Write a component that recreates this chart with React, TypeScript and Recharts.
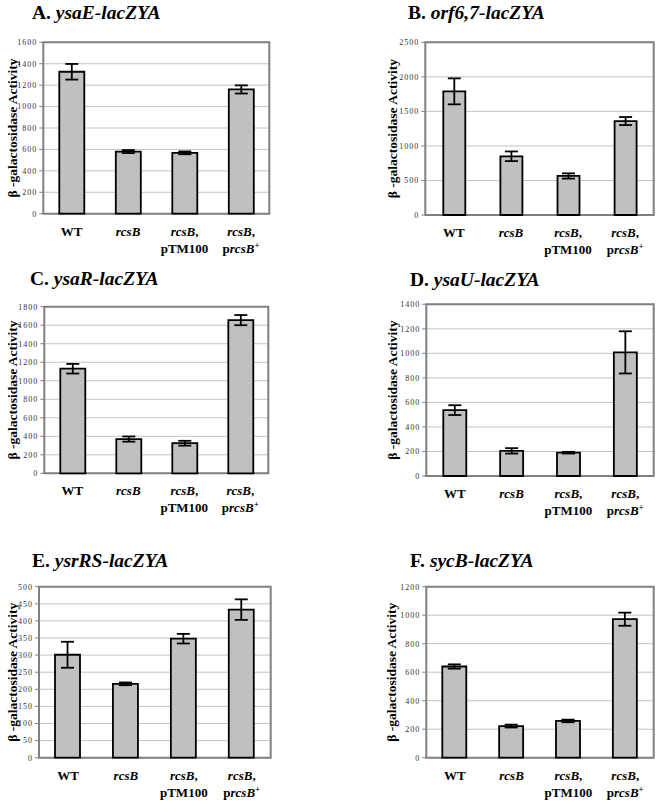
import React from 'react';
import { BarChart, Bar, XAxis, YAxis, CartesianGrid, ErrorBar, ReferenceArea } from 'recharts';

const categories = ['WT', 'rcsB', 'rcsB, pTM100', 'rcsB, prcsB+'];

const aValues = [1325, 580, 568, 1160];
const aErrors = [73, 14, 13, 38];
const aTicks = [0, 200, 400, 600, 800, 1000, 1200, 1400, 1600];

const bValues = [1790, 850, 565, 1360];
const bErrors = [188, 70, 38, 58];
const bTicks = [0, 500, 1000, 1500, 2000, 2500];

const cValues = [1130, 370, 325, 1655];
const cErrors = [52, 28, 26, 55];
const cTicks = [0, 200, 400, 600, 800, 1000, 1200, 1400, 1600, 1800];

const dValues = [537, 205, 190, 1008];
const dErrors = [40, 22, 7, 172];
const dTicks = [0, 200, 400, 600, 800, 1000, 1200, 1400];

const eValues = [301, 216, 348, 433];
const eErrors = [38, 4, 14, 30];
const eTicks = [0, 50, 100, 150, 200, 250, 300, 350, 400, 450, 500];

const fValues = [640, 222, 258, 972];
const fErrors = [15, 10, 9, 46];
const fTicks = [0, 200, 400, 600, 800, 1000, 1200];

const SERIF = 'Liberation Serif, Times New Roman, serif';
const W = 332;
const H = 269;
const YW = 35;
const XH = 40;
const TITLE_SIZE = 19.5;

interface PanelSpec {
  letter: string;
  gene: string;
  values: number[];
  errors: number[];
  ticks: number[];
  px: number;
  py: number;
  plot: [number, number, number, number];
  title: [number, number];
  labelX: number;
  barSize: number;
}

const panels: PanelSpec[] = [
  { letter: 'A.', gene: 'ysaE-lacZYA', values: aValues, errors: aErrors, ticks: aTicks,
    px: 0, py: 0, plot: [43.3, 42.3, 269.3, 213.7], title: [32, 19], labelX: 12, barSize: 25 },
  { letter: 'B.', gene: 'orf6,7-lacZYA', values: bValues, errors: bErrors, ticks: bTicks,
    px: 332, py: 0, plot: [425.3, 42.3, 653.7, 215], title: [408, 19], labelX: 392, barSize: 22 },
  { letter: 'C.', gene: 'ysaR-lacZYA', values: cValues, errors: cErrors, ticks: cTicks,
    px: 0, py: 265, plot: [44.3, 306.7, 268.3, 473.3], title: [30, 285], labelX: 12, barSize: 25 },
  { letter: 'D.', gene: 'ysaU-lacZYA', values: dValues, errors: dErrors, ticks: dTicks,
    px: 332, py: 265, plot: [426.3, 304.3, 653.7, 476], title: [410, 286], labelX: 392, barSize: 23 },
  { letter: 'E.', gene: 'ysrRS-lacZYA', values: eValues, errors: eErrors, ticks: eTicks,
    px: 0, py: 535, plot: [39, 586.7, 270.7, 757.7], title: [32, 567], labelX: 12, barSize: 25 },
  { letter: 'F.', gene: 'sycB-lacZYA', values: fValues, errors: fErrors, ticks: fTicks,
    px: 332, py: 535, plot: [426.3, 586.7, 653.7, 757.7], title: [410, 567], labelX: 391, barSize: 24 },
];

function XTick(props: any) {
  const { x, y, payload } = props;
  const v: string = payload.value;
  const l1 = y + 22;
  const l2 = y + 39;
  const st = { fontFamily: SERIF, fontSize: 13, fontWeight: 700, fill: '#000' };
  if (v === 'WT') {
    return <text x={x} y={l1} textAnchor="middle" {...st}>WT</text>;
  }
  if (v === 'rcsB') {
    return <text x={x} y={l1} textAnchor="middle" {...st} fontStyle="italic">rcsB</text>;
  }
  const first = (
    <text x={x} y={l1} textAnchor="middle" {...st}>
      <tspan fontStyle="italic">rcsB</tspan>,
    </text>
  );
  if (v === 'rcsB, pTM100') {
    return (
      <g>
        {first}
        <text x={x} y={l2} textAnchor="middle" {...st}>pTM100</text>
      </g>
    );
  }
  return (
    <g>
      {first}
      <text x={x} y={l2} textAnchor="middle" {...st}>
        p<tspan fontStyle="italic">rcsB</tspan>
        <tspan fontSize={9} dy={-5}>+</tspan>
      </text>
    </g>
  );
}

function Panel({ p }: { p: PanelSpec }) {
  const data = categories.map((name, i) => ({ name, value: p.values[i], err: p.errors[i] }));
  const max = p.ticks[p.ticks.length - 1];
  const margin = {
    top: p.plot[1] - p.py,
    left: p.plot[0] - p.px - YW,
    right: p.px + W - p.plot[2],
    bottom: H - (p.plot[3] - p.py) - XH,
  };
  return (
    <>
      <div
        style={{
          position: 'absolute',
          left: p.title[0],
          top: p.title[1] - 0.8375 * TITLE_SIZE,
          fontFamily: SERIF,
          fontSize: TITLE_SIZE,
          lineHeight: `${TITLE_SIZE}px`,
          fontWeight: 700,
          whiteSpace: 'nowrap',
        }}
      >
        {p.letter} <i>{p.gene}</i>
      </div>
      <div style={{ position: 'absolute', left: p.px, top: p.py }}>
        <BarChart width={W} height={H} data={data} margin={margin}>
          <CartesianGrid vertical={false} stroke="#c4c4c4" />
          <XAxis
            dataKey="name"
            axisLine={false}
            tickLine={false}
            tickSize={0}
            tickMargin={0}
            interval={0}
            height={XH}
            tick={<XTick />}
          />
          <YAxis
            width={YW}
            domain={[0, max]}
            ticks={p.ticks}
            interval={0}
            axisLine={false}
            tickSize={4}
            tickMargin={2}
            tickLine={{ stroke: '#808080' }}
            tick={{ fontFamily: SERIF, fontSize: 8, fill: '#333', letterSpacing: 1 }}
            label={{
              value: 'β -galactosidase Activity',
              angle: -90,
              position: 'insideLeft',
              offset: p.labelX - p.px - margin.left,
              style: { textAnchor: 'middle', fontFamily: SERIF, fontSize: 13.5, fontWeight: 700, fill: '#000' },
            }}
          />
          <Bar dataKey="value" fill="#c0c0c0" stroke="#000" strokeWidth={1.8} barSize={p.barSize} isAnimationActive={false}>
            <ErrorBar dataKey="err" width={6.5} stroke="#000" strokeWidth={1.8} direction="y" />
          </Bar>
          <ReferenceArea y1={0} y2={max} fill="none" stroke="#808080" strokeWidth={2} />
        </BarChart>
      </div>
    </>
  );
}

export default function App() {
  return (
    <div style={{ position: 'absolute', left: 0, top: 0, width: 664, height: 804, background: '#fff' }}>
      {panels.map((p) => (
        <Panel key={p.letter} p={p} />
      ))}
    </div>
  );
}
